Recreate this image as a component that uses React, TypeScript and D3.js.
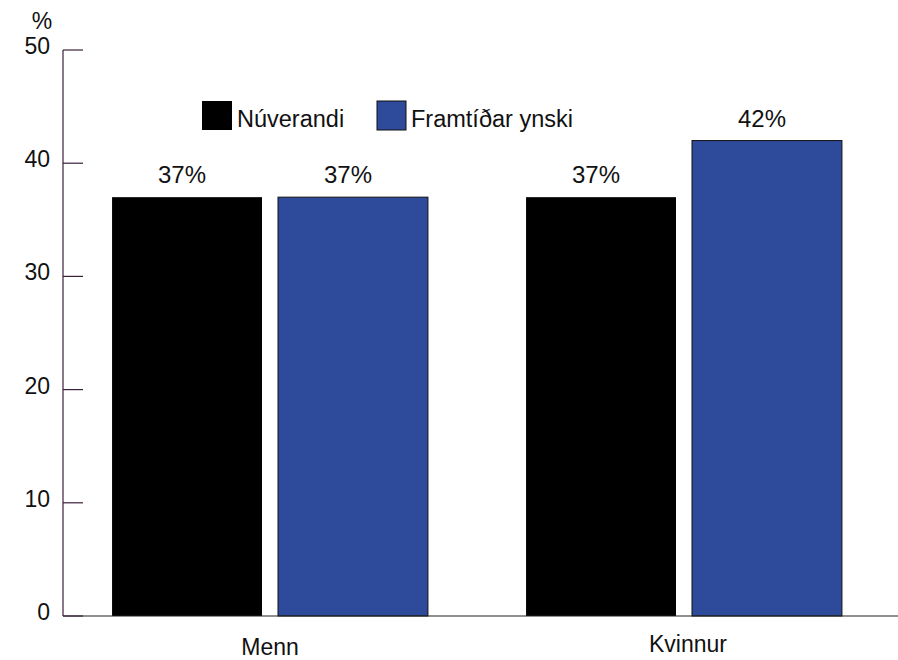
import React from "react";
import * as d3 from "d3";

const categories = ["Menn", "Kvinnur"];
const seriesNames = ["Núverandi", "Framtíðar ynski"];
const nuverandi = [37, 37];
const framtidar = [37, 42];
const yTicks = [0, 10, 20, 30, 40, 50];
const colors = ["#000000", "#2e4a9a"];

export default function App() {
  const W = 898, H = 660;
  const left = 63, right = 891, top = 50, bottom = 616;
  const y = d3.scaleLinear().domain([0, 50]).range([bottom, top]);
  const x0 = d3.scaleBand().domain(categories).range([left, right]).paddingInner(0.237).paddingOuter(0.1185);
  const x1 = d3.scaleBand().domain(seriesNames).range([0, x0.bandwidth()]).paddingInner(0.0964).paddingOuter(0);
  const series = [nuverandi, framtidar];
  const font = "'Liberation Sans', Arial, sans-serif";
  return (
    <svg width={W} height={H} style={{ position: "absolute", left: 0, top: 0, fontFamily: font }}>
      <rect width={W} height={H} fill="#fff" />
      {categories.map((c, ci) =>
        series.map((s, si) => (
          <g key={c + si}>
            <rect
              x={(x0(c) as number) + (x1(seriesNames[si]) as number)}
              y={y(s[ci])}
              width={x1.bandwidth()}
              height={bottom - y(s[ci])}
              fill={colors[si]}
              stroke={si === 1 ? "#111" : "none"}
              strokeWidth={1}
            />
            <text
              x={(x0(c) as number) + (x1(seriesNames[si]) as number) + x1.bandwidth() / 2}
              dx={-5}
              y={y(s[ci]) - 14}
              textAnchor="middle"
              fontSize={24}
              fill="#111"
            >
              {s[ci]}%
            </text>
          </g>
        ))
      )}
      <line x1={left} x2={left} y1={top} y2={bottom} stroke="#3a1f3a" strokeWidth={1.2} />
      <line x1={left} x2={W} y1={bottom} y2={bottom} stroke="#222" strokeWidth={1.2} />
      {yTicks.map((t) => (
        <g key={t}>
          <line x1={left} x2={left + 20} y1={y(t)} y2={y(t)} stroke="#3a1f3a" strokeWidth={1.2} />
          <text x={50} y={y(t) + 4} textAnchor="end" fontSize={23} fill="#111">{t}</text>
        </g>
      ))}
      <text x={42} y={29} textAnchor="middle" fontSize={23} fill="#111">%</text>
      {categories.map((c, i) => (
        <text key={c} x={(x0(c) as number) + x0.bandwidth() / 2 + (i === 0 ? 0 : 4)} y={i === 0 ? 655 : 652} textAnchor="middle" fontSize={23} fill="#111">{c}</text>
      ))}
      <rect x={202} y={101} width={30} height={29} fill={colors[0]} />
      <text x={237} y={127} fontSize={23.5} fill="#111">{seriesNames[0]}</text>
      <rect x={377} y={101} width={29} height={29} fill={colors[1]} stroke="#111" strokeWidth={1} />
      <text x={411} y={127} fontSize={23.5} fill="#111">{seriesNames[1]}</text>
    </svg>
  );
}
